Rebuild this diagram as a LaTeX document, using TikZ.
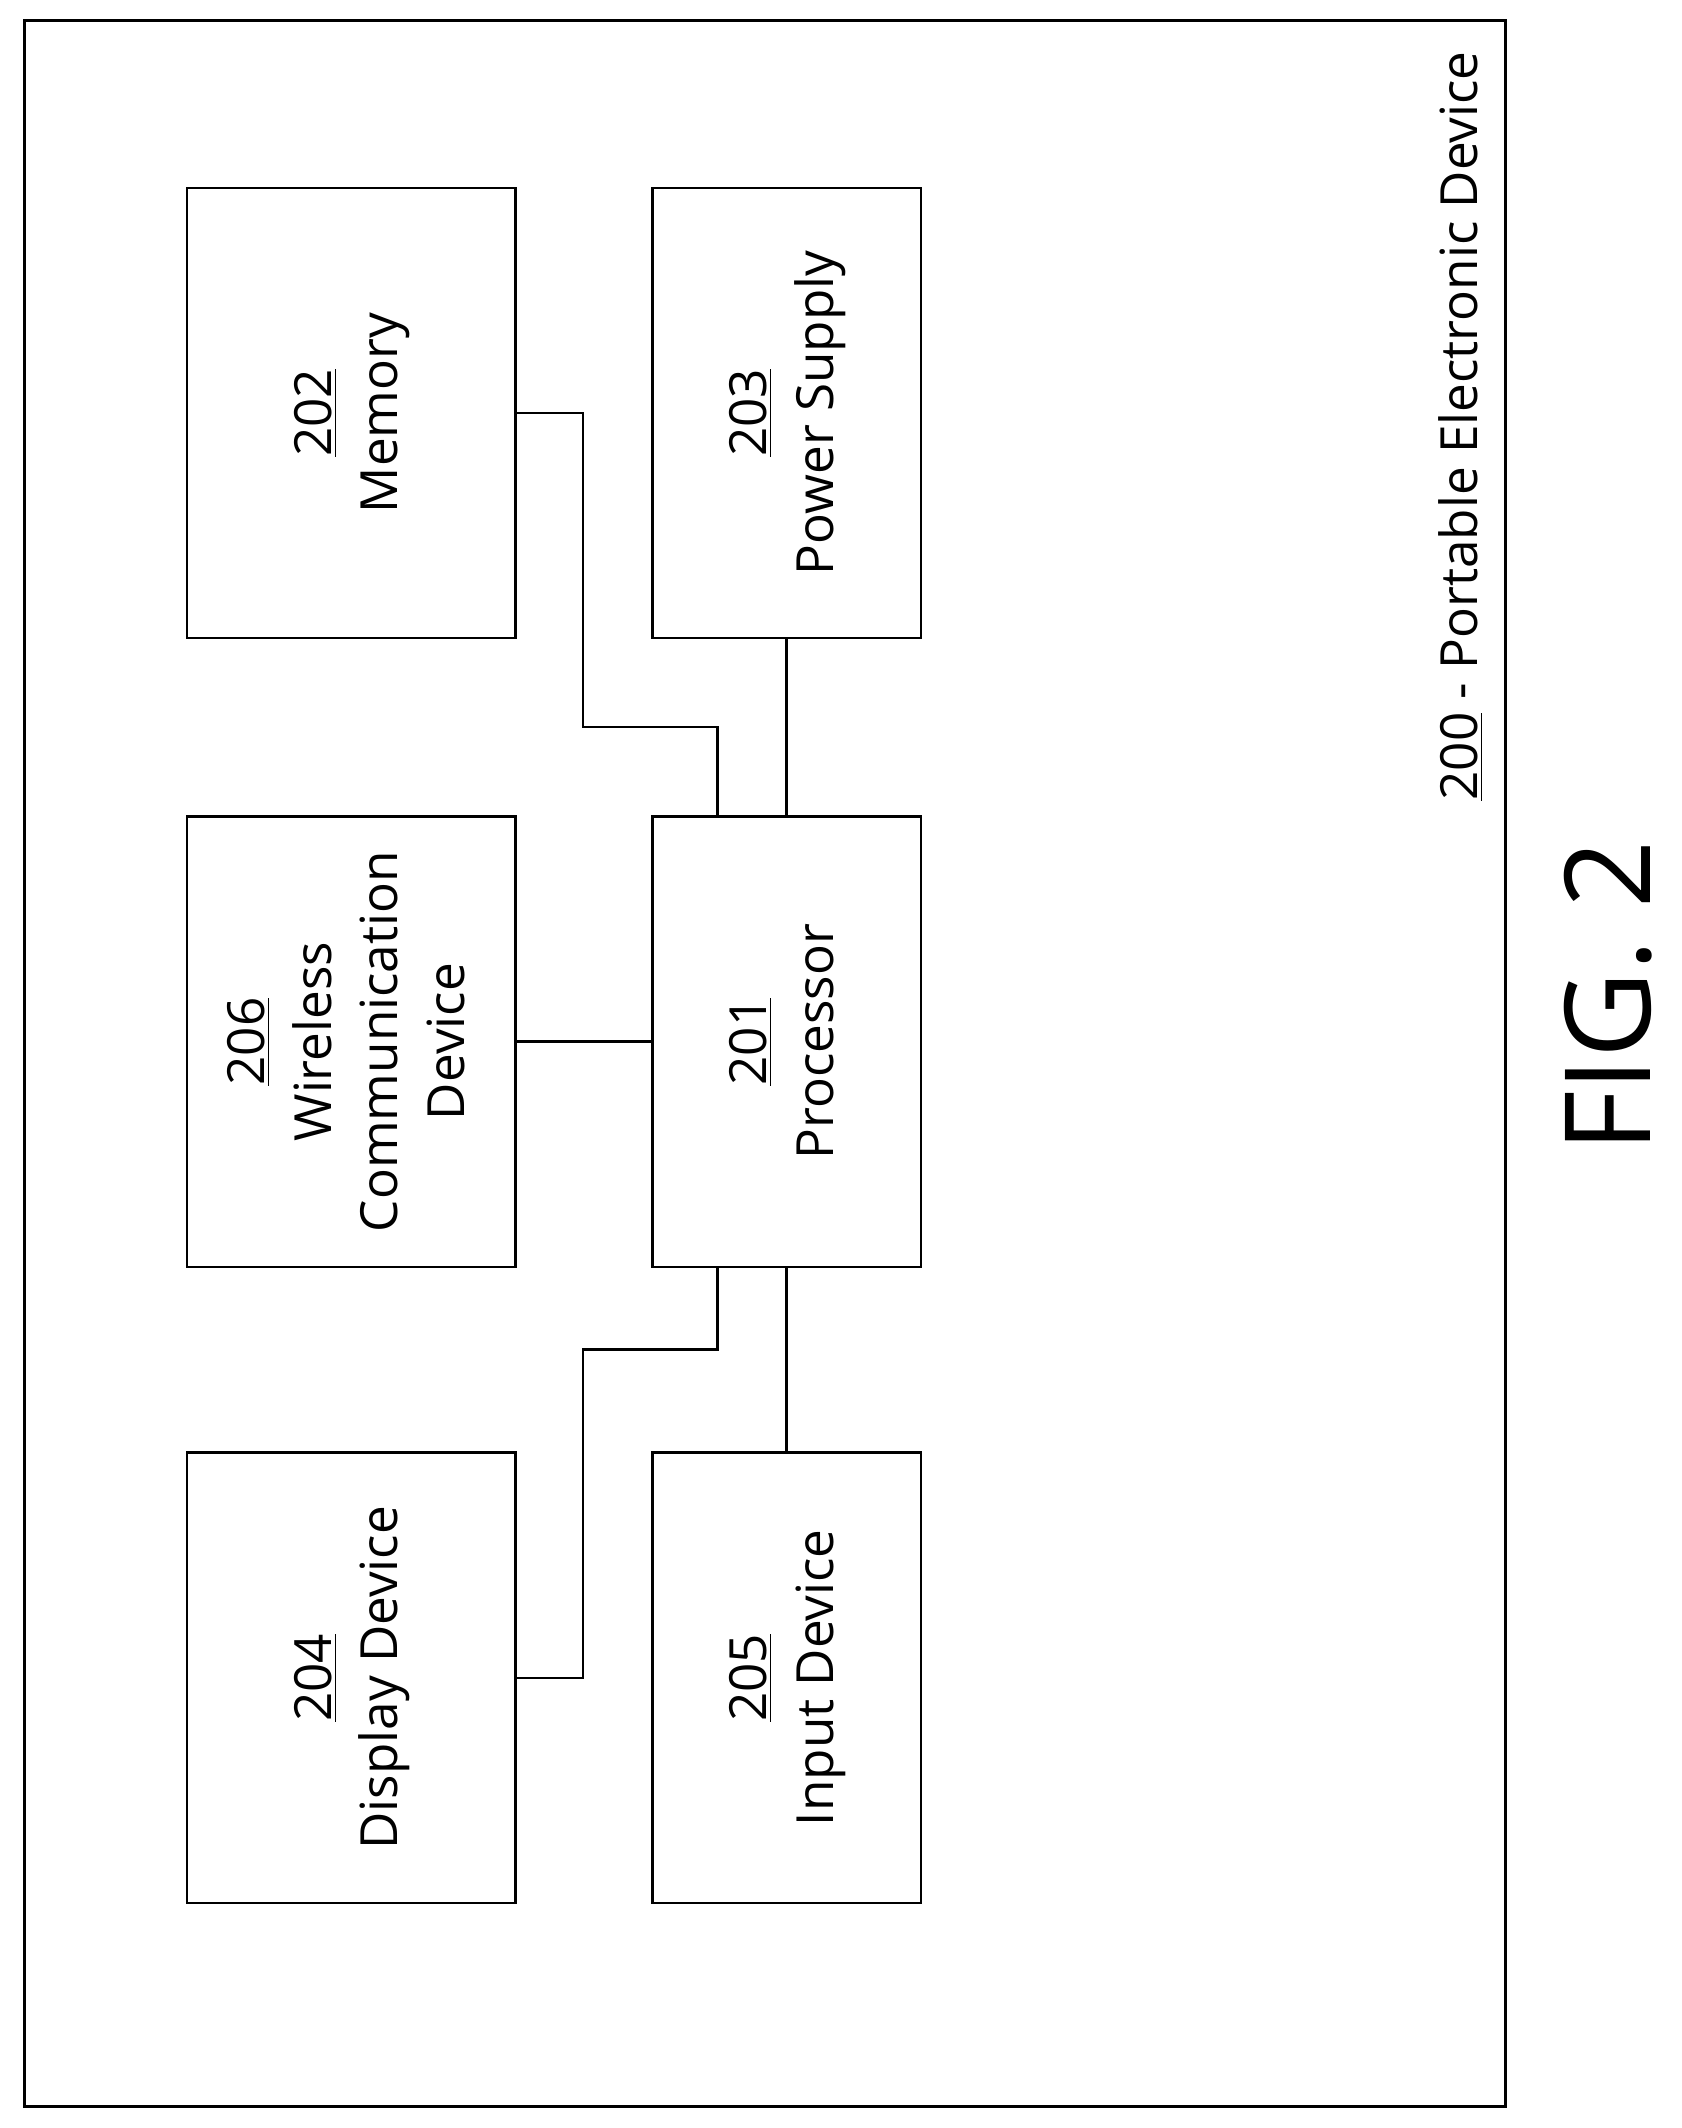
\documentclass[tikz,border=0pt]{standalone}
\usepackage{fontspec}
\setmainfont{Open Sans}
\usetikzlibrary{positioning}
\begin{document}
\begin{tikzpicture}
[x=0.02cm,y=-0.02cm,line width=1pt,
 blk/.style={draw=black,rectangle,inner sep=0mm,font=\fontsize{21.5}{28}\selectfont},
 wide/.style={blk,minimum width=4.84cm,minimum height=6.64cm},
 slim/.style={blk,minimum width=3.96cm,minimum height=6.64cm}]
\useasboundingbox (0,0) rectangle (1240,1569);
\draw (18,15) rectangle (1110,1553);
\node[wide] (mem)  at (259,304.5) {\rotatebox{90}{\begin{tabular}{c}\underline{202}\\Memory\end{tabular}}};
\node[slim] (pwr)  at (580,304.5) {\rotatebox{90}{\begin{tabular}{c}\underline{203}\\Power Supply\end{tabular}}};
\node[wide] (wcd)  at (259,768)   {\rotatebox{90}{\begin{tabular}{c}\underline{206}\\Wireless\\Communication\\Device\end{tabular}}};
\node[slim] (proc) at (580,768)   {\rotatebox{90}{\begin{tabular}{c}\underline{201}\\Processor\end{tabular}}};
\node[wide] (disp) at (259,1237)  {\rotatebox{90}{\begin{tabular}{c}\underline{204}\\Display Device\end{tabular}}};
\node[slim] (inp)  at (580,1237)  {\rotatebox{90}{\begin{tabular}{c}\underline{205}\\Input Device\end{tabular}}};
\node[font=\fontsize{21.5}{28}\selectfont,rotate=90,anchor=west] (ped) at (1077,597) {\underline{200} - Portable Electronic Device};
\node[font=\fontsize{50}{56}\selectfont,rotate=90] (fig) at (1186,735) {FIG. 2};
% bus wiring
\coordinate (jm) at (430,536);
\coordinate (jd) at (430,995);
\draw (mem.east) -| (jm) -| ([xshift=-1.02cm]proc.north);
\draw (pwr) -- (proc);
\draw (wcd) -- (proc);
\draw ([xshift=-1.02cm]proc.south) |- (jd) |- (disp.east);
\draw (proc) -- (inp);
\end{tikzpicture}
\end{document}
